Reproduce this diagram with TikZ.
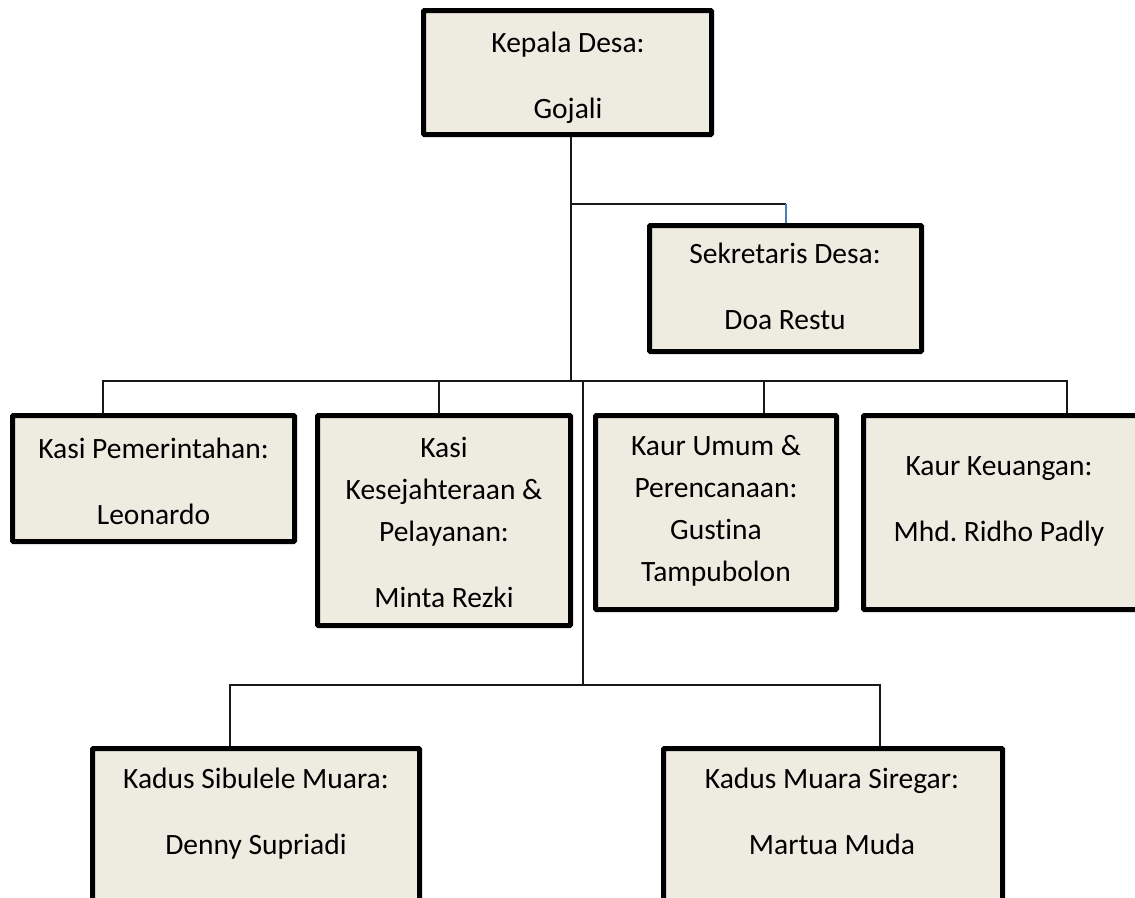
\documentclass[tikz,border=0pt]{standalone}
\usepackage{fontspec}
\setmainfont{Carlito}[Ligatures=NoCommon]
\frenchspacing
\definecolor{boxfill}{RGB}{238,236,225}
\definecolor{linegray}{RGB}{25,25,25}
\definecolor{tickblue}{RGB}{74,126,187}
\begin{document}
\begin{tikzpicture}[x=1pt,y=-1pt,
  box/.style={draw=black, line width=5pt, fill=boxfill, rounded corners=1pt, inner sep=0pt},
  txt/.style={align=center, font=\fontsize{29.5}{42}\selectfont, inner sep=0pt, text=black},
  conn/.style={line width=1.3pt, draw=linegray, line join=miter},
  tick/.style={line width=1.3pt, draw=tickblue}]
\useasboundingbox (0,0) rectangle (1135,897);
\clip (0,0) rectangle (1135,897);
\fill[white] (0,0) rectangle (1135,897);
% boxes
\node[box, minimum width=288pt, minimum height=124pt] (kd) at (567.5,72.5) {};
\node[box, minimum width=272pt, minimum height=126pt] (sd) at (785.5,288.5) {};
\node[box, minimum width=282pt, minimum height=126pt] (kp) at (153.5,478.5) {};
\node[box, minimum width=253pt, minimum height=210pt] (kk) at (444,520.5) {};
\node[box, minimum width=241pt, minimum height=194pt] (ku) at (716,512.5) {};
\node[box, minimum width=274pt, minimum height=194pt] (kg) at (1000.5,512.5) {};
\node[box, minimum width=327pt, minimum height=180pt] (bl) at (256,838.5) {};
\node[box, minimum width=339pt, minimum height=180pt] (br) at (833,838.5) {};
% texts
\node[txt] (kdt) at (568,77) {\strut Kepala Desa:\\[24pt] Gojali\strut};
\node[txt] (sdt) at (785,288.5) {\strut Sekretaris Desa:\\[24pt] Doa Restu\strut};
\node[txt] (kpt) at (153.5,483) {\strut Kasi Pemerintahan:\\[24pt] Leonardo\strut};
\node[txt] (kkt) at (444,524.5) {\strut Kasi\\ Kesejahteraan \&\\ Pelayanan:\\[24pt] Minta Rezki\strut};
\node[txt] (kut) at (716,510) {\strut Kaur Umum \&\\ Perencanaan:\\ Gustina\\ Tampubolon\strut};
\node[txt] (kgt) at (999,500) {\strut Kaur Keuangan:\\[24pt] Mhd. Ridho Padly\strut};
\node[txt] (blt) at (256,813) {\strut Kadus Sibulele Muara:\\[24pt] Denny Supriadi\strut};
\node[txt] (brt) at (832,813) {\strut Kadus Muara Siregar:\\[24pt] Martua Muda\strut};
% connector points
\coordinate (main) at (571,381);
\coordinate (sj) at (571,204);
\coordinate (sk) at (786,204);
\coordinate (bL) at (103,381);
\coordinate (b2) at (439,381);
\coordinate (b3) at (764,381);
\coordinate (bR) at (1067,381);
\coordinate (t1) at (583,381);
\coordinate (t2) at (583,685);
\coordinate (cL) at (230,685);
\coordinate (cR) at (880,685);
% connectors
\draw[conn] ([xshift=3.5pt]kd.south) -- (main);
\draw[conn] (sj) -- (sk);
\draw[tick] (sk) -- (sk |- sd.north);
\draw[conn] (bL |- kp.north) -- (bL) -- (bR) -- (bR |- kg.north);
\draw[conn] (b2) -- (b2 |- kk.north);
\draw[conn] (b3) -- (b3 |- ku.north);
\draw[conn] (t1) -- (t2);
\draw[conn] (cL |- bl.north) -- (cL) -- (cR) -- (cR |- br.north);
\end{tikzpicture}
\end{document}
